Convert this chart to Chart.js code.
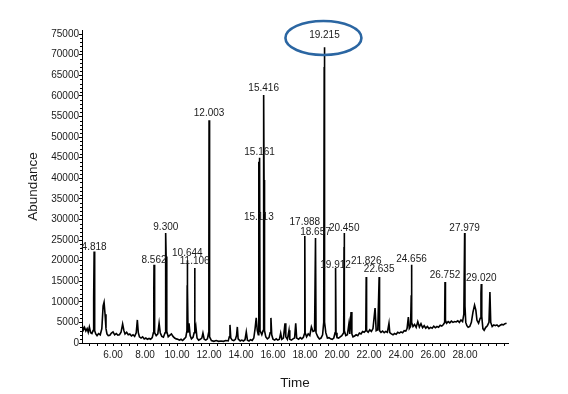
<!DOCTYPE html>
<html>
<head>
<meta charset="utf-8">
<script src="https://cdn.jsdelivr.net/npm/chart.js@4/dist/chart.umd.min.js"></script>
<style>
html,body{margin:0;padding:0;background:#fff;}
#wrap{width:568px;height:394px;position:relative;}
</style>
</head>
<body>
<div id="wrap"><canvas id="c" width="568" height="394"></canvas></div>
<script>
// Retention time (min) of each point of the chromatogram trace
const traceTime = [
4.08,4.15,4.22,4.3,4.38,4.45,4.52,4.6,4.68,4.75,4.78,4.80,4.818,4.835,4.87,4.92,5.0,5.1,5.2,5.3,5.38,5.44,5.5,5.56,5.62,5.7,5.8,5.9,
6.0,6.1,6.2,6.3,6.4,6.5,6.6,6.68,6.75,6.85,6.95,7.05,7.15,7.25,7.35,7.45,7.52,7.58,7.65,7.75,7.85,7.95,
8.05,8.15,8.25,8.35,8.45,8.52,8.55,8.562,8.58,8.62,8.7,8.8,8.88,8.95,9.05,9.15,9.25,9.28,9.30,9.32,9.36,9.45,9.56,9.65,9.75,9.85,9.95,
10.05,10.15,10.25,10.35,10.45,10.55,10.62,10.635,10.644,10.66,10.69,10.75,10.82,10.9,11.0,11.07,11.106,11.12,11.18,11.25,11.35,11.45,11.55,11.62,11.7,11.8,11.9,11.97,11.99,12.003,12.02,12.05,
12.15,12.3,12.45,12.6,12.75,12.9,13.05,13.2,13.27,13.31,13.36,13.45,13.55,13.65,13.72,13.77,13.82,13.95,
14.05,14.15,14.25,14.33,14.4,14.5,14.6,14.7,14.8,14.88,14.95,15.02,15.08,15.113,15.135,15.161,15.19,15.3,15.38,15.416,15.44,15.47,15.55,15.65,15.75,15.82,15.87,15.92,
16.0,16.1,16.2,16.3,16.4,16.48,16.55,16.65,16.75,16.8,16.9,17.0,17.05,17.15,17.25,17.35,17.42,17.48,17.6,17.7,17.8,17.9,17.96,17.988,18.01,
18.1,18.2,18.3,18.4,18.5,18.6,18.657,18.69,18.8,18.9,19.0,19.1,19.17,19.2,19.215,19.23,19.3,19.4,19.5,19.6,19.7,19.8,19.88,19.912,19.94,
20.0,20.1,20.2,20.3,20.42,20.44,20.45,20.47,20.55,20.65,20.75,20.8,20.88,20.93,21.0,21.1,21.2,21.3,21.4,21.5,21.6,21.7,21.8,21.826,21.85,21.95,
22.05,22.15,22.25,22.38,22.45,22.55,22.635,22.66,22.75,22.85,22.95,23.05,23.15,23.25,23.3,23.4,23.5,23.6,23.7,23.8,23.9,
24.0,24.1,24.2,24.3,24.38,24.46,24.52,24.6,24.64,24.656,24.68,24.75,24.85,24.95,25.05,25.15,25.25,25.35,25.45,25.55,25.65,25.75,25.85,25.95,
26.05,26.15,26.25,26.35,26.45,26.55,26.65,26.73,26.752,26.78,26.85,26.95,27.05,27.15,27.25,27.35,27.45,27.55,27.65,27.75,27.85,27.93,27.979,28.0,
28.05,28.12,28.2,28.3,28.4,28.5,28.6,28.68,28.75,28.85,28.95,29.0,29.02,29.05,29.12,29.2,29.3,29.4,29.5,29.56,29.61,29.7,29.8,29.9,
30.0,30.1,30.2,30.3,30.4,30.5,30.6
];
// Abundance at each of those times
const traceAbundance = [
4200,3200,3800,2900,3500,2600,3900,2500,2300,3000,3000,11000,22200,10500,3000,2200,1800,2300,2000,3500,9000,9900,7000,3500,2200,1800,1900,2400,
2700,2000,2300,1900,2000,2600,4600,3000,2200,2600,2000,2200,1700,2000,1600,2500,5600,2500,1500,1200,1500,1000,
1200,900,1100,900,1300,2500,13300,19000,12000,2500,1800,2200,4800,2500,1600,1400,2500,22000,26700,21000,2800,1500,1900,2200,1600,1200,1000,
900,700,900,600,1000,1400,3000,14000,20100,13500,2500,4800,1800,1000,1400,2500,18200,2500,3900,1200,700,900,1200,2400,900,700,1000,2400,17200,54100,16000,1500,
600,400,600,400,500,400,600,500,1500,4400,1200,700,600,900,1800,3900,1000,500,
700,500,800,2700,700,500,800,600,1200,3500,6100,3000,2000,44000,3000,45000,3000,2000,3000,60200,39600,3000,1500,1000,1300,2500,6100,2000,
900,700,1000,700,900,2400,900,1200,4800,1500,900,3100,900,700,1000,1200,4800,1200,900,1300,1000,1400,2200,26000,2500,
1500,2200,1800,3900,2800,3000,25500,2500,1500,1000,1200,2000,5000,67000,71800,5100,2500,1200,1300,1000,900,1200,2500,18200,2500,
1300,1200,1500,1800,2500,23300,26700,3000,1800,2000,4800,2200,7500,2200,1500,1700,2000,1800,2400,2200,2800,2600,3000,16000,3000,2600,
3200,2800,3500,8500,3000,3200,16000,3000,2600,2900,2500,2800,2600,4800,2500,2200,2000,2300,2100,2600,2400,
2700,2500,3000,2900,3500,6300,3500,4000,11600,19000,5000,4000,4500,3800,5200,3900,4700,3700,4200,3600,4000,3500,3800,3600,
4100,3700,4000,3800,4300,4100,4500,5000,14800,5500,4800,5200,4900,5300,5000,5200,5100,5400,5000,5600,5200,7000,26700,9000,
5000,4200,3800,4000,5000,7500,9200,8000,5500,4800,6000,12000,14300,6500,3500,3100,3800,4200,5000,12400,5000,4000,4400,4200,
4400,4000,4300,4500,4400,4700,4800
];
// Labelled peaks
const peakTimes  = [4.818, 8.562, 9.300, 10.644, 11.106, 12.003, 15.113, 15.161, 15.416, 17.988, 18.657, 19.215, 19.912, 20.450, 21.826, 22.635, 24.656, 26.752, 27.979, 29.020];
const peakLabels = ["4.818","8.562","9.300","10.644","11.106","12.003","15.113","15.161","15.416","17.988","18.657","19.215","19.912","20.450","21.826","22.635","24.656","26.752","27.979","29.020"];
const peakLabelAbundance = [23300, 20100, 28200, 21800, 19800, 55800, 30600, 46400, 61900, 29400, 26900, 74800, 18900, 27900, 19900, 17800, 20400, 16500, 27900, 15800];
const highlightedPeak = "19.215";
// Axis ticks
const xTickValues = [4.5,5,5.5,6,6.5,7,7.5,8,8.5,9,9.5,10,10.5,11,11.5,12,12.5,13,13.5,14,14.5,15,15.5,16,16.5,17,17.5,18,18.5,19,19.5,20,20.5,21,21.5,22,22.5,23,23.5,24,24.5,25,25.5,26,26.5,27,27.5,28,28.5,29,29.5,30,30.5];
const xTickLabels = ["6.00","8.00","10.00","12.00","14.00","16.00","18.00","20.00","22.00","24.00","26.00","28.00"];
const yTickValues = [0,5000,10000,15000,20000,25000,30000,35000,40000,45000,50000,55000,60000,65000,70000,75000];
const xTitle = "Time";
const yTitle = "Abundance";

const FONT = "'Liberation Sans', Arial, sans-serif";

const tracePoints = traceTime.map((t, i) => ({x: t, y: traceAbundance[i]}));

const annot = {
  id: 'peakAnnot',
  afterDatasetsDraw(chart) {
    const {ctx, scales: {x, y}} = chart;
    ctx.save();
    // minor y ticks
    ctx.strokeStyle = '#000';
    ctx.lineWidth = 1;
    for (let v = 1000; v <= 75000; v += 1000) {
      if (v % 5000 === 0) continue;
      const py = Math.round(y.getPixelForValue(v)) + 0.5;
      ctx.beginPath();
      ctx.moveTo(x.left - 2, py);
      ctx.lineTo(x.left, py);
      ctx.stroke();
    }
    ctx.font = '10px ' + FONT;
    ctx.fillStyle = '#1a1a1a';
    ctx.textAlign = 'center';
    ctx.textBaseline = 'middle';
    peakTimes.forEach((t, i) => {
      ctx.fillText(peakLabels[i], x.getPixelForValue(t), y.getPixelForValue(peakLabelAbundance[i]));
    });
    const hi = peakLabels.indexOf(highlightedPeak);
    if (hi >= 0) {
      const cx = x.getPixelForValue(peakTimes[hi]) - 1;
      const cy = y.getPixelForValue(peakLabelAbundance[hi]) + 3;
      ctx.beginPath();
      ctx.ellipse(cx, cy, 38, 17, 0, 0, Math.PI * 2);
      ctx.strokeStyle = '#2b66a2';
      ctx.lineWidth = 2.6;
      ctx.stroke();
    }
    ctx.restore();
  }
};

new Chart(document.getElementById('c'), {
  type: 'line',
  data: {
    datasets: [{
      data: tracePoints,
      borderColor: '#000',
      borderWidth: 1.6,
      pointRadius: 0,
      tension: 0,
      fill: false
    }]
  },
  options: {
    responsive: false,
    animation: false,
    events: [],
    layout: {padding: {left: 24, top: 30, right: 60, bottom: 2}},
    plugins: {legend: {display: false}, tooltip: {enabled: false}},
    scales: {
      x: {
        type: 'linear',
        min: 4.06,
        max: 30.69,
        afterBuildTicks(s) { s.ticks = xTickValues.map(v => ({value: v})); },
        afterFit(s) { s.height = 49; },
        grid: {display: true, drawOnChartArea: false, drawTicks: true, tickLength: 3, color: '#000'},
        border: {display: true, color: '#000', width: 1},
        ticks: {
          autoSkip: false, maxRotation: 0, padding: 3, color: '#1a1a1a',
          font: {family: FONT, size: 10},
          callback(v) {
            const lbl = (Math.round(v * 100) / 100).toFixed(2);
            return xTickLabels.includes(lbl) ? lbl : '';
          }
        },
        title: {display: true, text: xTitle, color: '#1a1a1a', font: {family: FONT, size: 13.5}, padding: {top: 0, bottom: 1}}
      },
      y: {
        type: 'linear',
        min: 0,
        max: 76000,
        afterBuildTicks(s) { s.ticks = yTickValues.map(v => ({value: v})); },
        afterFit(s) { s.width = 58; },
        grid: {display: true, drawOnChartArea: false, drawTicks: true, tickLength: 3, color: '#000'},
        border: {display: true, color: '#000', width: 1},
        ticks: {
          autoSkip: false, padding: 0, color: '#1a1a1a',
          font: {family: FONT, size: 10},
          callback(v) { return String(v); }
        },
        title: {display: true, text: yTitle, color: '#1a1a1a', font: {family: FONT, size: 13.5}, padding: {top: 1, bottom: 0}}
      }
    }
  },
  plugins: [annot]
});
</script>
</body>
</html>
